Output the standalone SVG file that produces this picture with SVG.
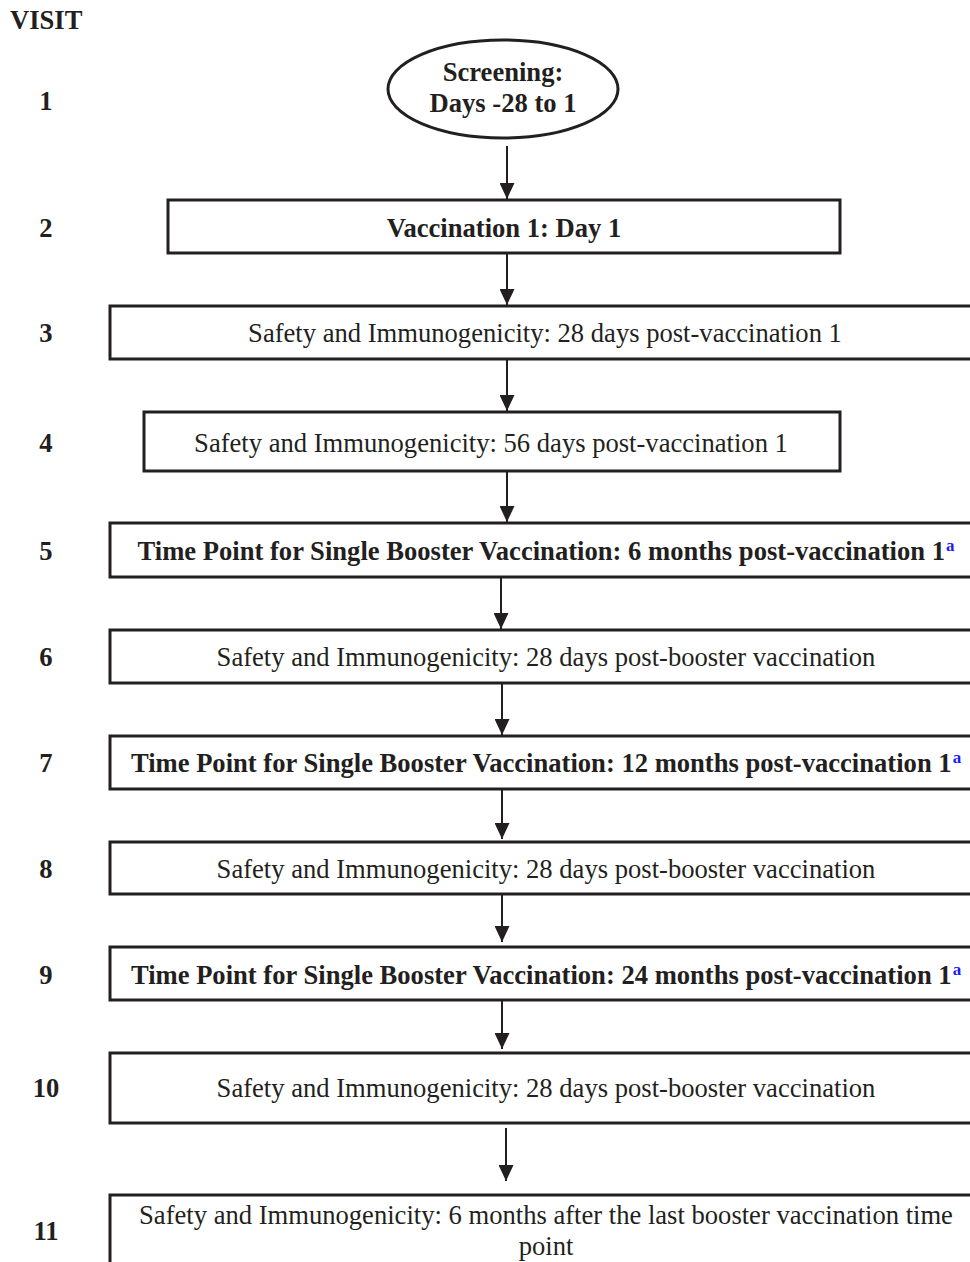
<svg xmlns="http://www.w3.org/2000/svg" width="970" height="1262" viewBox="0 0 970 1262">
  <style>
    .box { fill: #ffffff; stroke: #231f20; stroke-width: 3; }
    .lbl { font-family: "Liberation Serif", "Times New Roman", serif; font-size: 26.6px; fill: #231f20; text-anchor: middle; }
    .b { font-weight: bold; }
    .num { font-family: "Liberation Serif", "Times New Roman", serif; font-size: 26.6px; font-weight: bold; fill: #231f20; text-anchor: middle; }
    .sup { font-size: 17px; fill: #1a1aff; }
    .arrow { stroke: #231f20; stroke-width: 2; fill: none; marker-end: url(#head); }
  </style>
  <defs>
    <marker id="head" markerUnits="userSpaceOnUse" markerWidth="16" markerHeight="15" refX="16" refY="7.5" orient="auto">
      <path d="M0,0 L16,7.5 L0,15 z" fill="#231f20"/>
    </marker>
  </defs>
  <rect width="970" height="1262" fill="#ffffff"/>

  <!-- visit column -->
  <g id="visit-column">
    <text x="10" y="29" class="num" style="text-anchor:start">VISIT</text>
    <text x="46" y="110" class="num">1</text>
    <text x="46" y="237" class="num">2</text>
    <text x="46" y="342" class="num">3</text>
    <text x="46" y="452" class="num">4</text>
    <text x="46" y="560" class="num">5</text>
    <text x="46" y="666" class="num">6</text>
    <text x="46" y="772" class="num">7</text>
    <text x="46" y="878" class="num">8</text>
    <text x="46" y="984" class="num">9</text>
    <text x="46" y="1097" class="num">10</text>
    <text x="46" y="1240" class="num">11</text>
  </g>

  <!-- connectors -->
  <g id="connectors">
    <line class="arrow" x1="507" y1="146" x2="507" y2="199"/>
    <line class="arrow" x1="507" y1="253" x2="507" y2="305"/>
    <line class="arrow" x1="507" y1="359" x2="507" y2="411"/>
    <line class="arrow" x1="507" y1="471" x2="507" y2="522"/>
    <line class="arrow" x1="501" y1="577" x2="501" y2="629"/>
    <line class="arrow" x1="502" y1="683" x2="502" y2="735"/>
    <line class="arrow" x1="502" y1="786" x2="502" y2="839"/>
    <line class="arrow" x1="502" y1="889" x2="502" y2="942"/>
    <line class="arrow" x1="502" y1="997" x2="502" y2="1049"/>
    <line class="arrow" x1="506" y1="1128" x2="506" y2="1181"/>
  </g>

  <g id="node-screening">
    <ellipse cx="503" cy="89" rx="115" ry="49" class="box"/>
    <text x="503" y="81" class="lbl b">Screening:</text>
    <text x="503" y="112" class="lbl b">Days -28 to 1</text>
  </g>

  <g id="node-vaccination1">
    <rect x="168" y="200" width="672" height="53" class="box"/>
    <text x="504" y="237" class="lbl b">Vaccination 1: Day 1</text>
  </g>

  <g id="node-visit3">
    <rect x="110" y="306" width="870" height="53" class="box"/>
    <text x="545" y="342" class="lbl">Safety and Immunogenicity: 28 days post-vaccination 1</text>
  </g>

  <g id="node-visit4">
    <rect x="144" y="412" width="696" height="59" class="box"/>
    <text x="491" y="452" class="lbl">Safety and Immunogenicity: 56 days post-vaccination 1</text>
  </g>

  <g id="node-booster6m">
    <rect x="110" y="523" width="870" height="54" class="box"/>
    <text x="546" y="560" class="lbl b">Time Point for Single Booster Vaccination: 6 months post-vaccination 1<tspan class="sup" dx="1" dy="-9">a</tspan></text>
  </g>

  <g id="node-visit6">
    <rect x="110" y="630" width="870" height="53" class="box"/>
    <text x="546" y="666" class="lbl">Safety and Immunogenicity: 28 days post-booster vaccination</text>
  </g>

  <g id="node-booster12m">
    <rect x="110" y="736" width="870" height="53" class="box"/>
    <text x="546" y="772" class="lbl b">Time Point for Single Booster Vaccination: 12 months post-vaccination 1<tspan class="sup" dx="1" dy="-9">a</tspan></text>
  </g>

  <g id="node-visit8">
    <rect x="110" y="842" width="870" height="52" class="box"/>
    <text x="546" y="878" class="lbl">Safety and Immunogenicity: 28 days post-booster vaccination</text>
  </g>

  <g id="node-booster24m">
    <rect x="110" y="947" width="870" height="53" class="box"/>
    <text x="546" y="984" class="lbl b">Time Point for Single Booster Vaccination: 24 months post-vaccination 1<tspan class="sup" dx="1" dy="-9">a</tspan></text>
  </g>

  <g id="node-visit10">
    <rect x="110" y="1053" width="870" height="70" class="box"/>
    <text x="546" y="1097" class="lbl">Safety and Immunogenicity: 28 days post-booster vaccination</text>
  </g>

  <g id="node-visit11">
    <rect x="110" y="1195" width="870" height="100" class="box"/>
    <text x="546" y="1224" class="lbl">Safety and Immunogenicity: 6 months after the last booster vaccination time</text>
    <text x="546" y="1255" class="lbl">point</text>
  </g>
</svg>
